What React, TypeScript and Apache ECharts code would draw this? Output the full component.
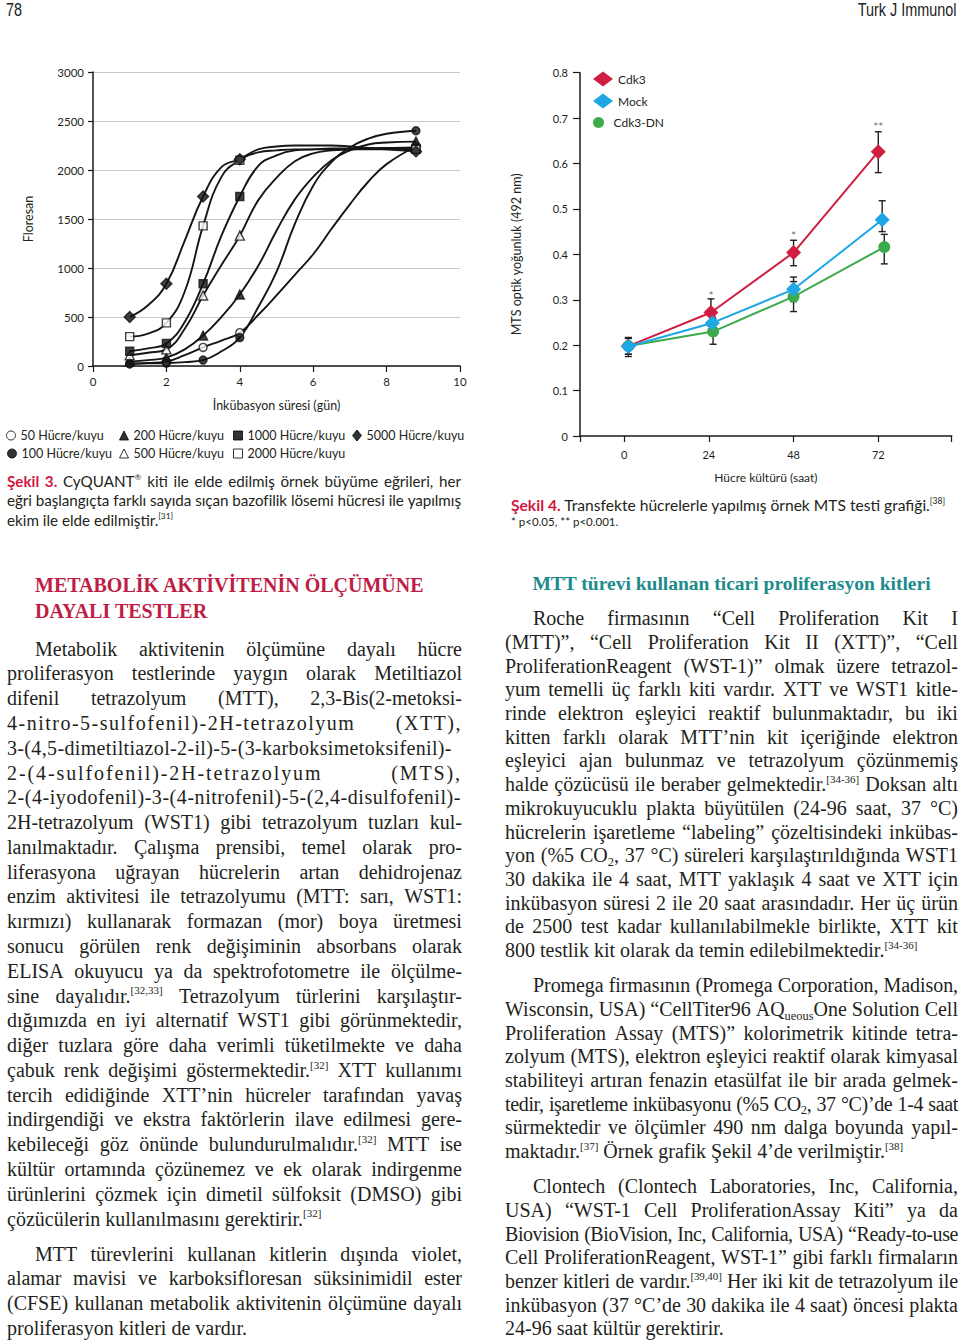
import React, { useEffect, useRef } from "react";
import * as echarts from "echarts";

// ---------- Şekil 3: CyQUANT büyüme eğrileri ----------
const growthSeriesNames = [
  "50 Hücre/kuyu",
  "100 Hücre/kuyu",
  "200 Hücre/kuyu",
  "500 Hücre/kuyu",
  "1000 Hücre/kuyu",
  "2000 Hücre/kuyu",
  "5000 Hücre/kuyu",
];
const curveDays = [1, 1.5, 2, 2.5, 3, 3.5, 4, 4.5, 5, 5.5, 6, 6.5, 7, 7.5, 8, 8.8];
const curve50 = [20, 30, 45, 110, 190, 260, 340, 520, 720, 930, 1140, 1400, 1650, 1880, 2060, 2240];
const curve100 = [25, 27, 30, 40, 60, 150, 290, 600, 960, 1450, 1840, 2080, 2230, 2320, 2370, 2400];
const curve200 = [45, 60, 85, 170, 310, 500, 730, 1020, 1380, 1700, 1930, 2100, 2200, 2260, 2280, 2290];
const curve500 = [110, 135, 170, 380, 720, 1030, 1330, 1690, 1920, 2090, 2170, 2200, 2210, 2220, 2225, 2230];
const curve1000 = [150, 180, 230, 450, 840, 1330, 1730, 2040, 2150, 2200, 2210, 2220, 2220, 2220, 2220, 2220];
const curve2000 = [300, 330, 440, 760, 1430, 1930, 2100, 2180, 2200, 2210, 2210, 2210, 2210, 2210, 2210, 2210];
const curve5000 = [500, 620, 840, 1280, 1730, 2030, 2110, 2210, 2240, 2250, 2250, 2250, 2240, 2225, 2210, 2190];
const growthCurves = [curve50, curve100, curve200, curve500, curve1000, curve2000, curve5000];
const markerDays = [1, 2, 3, 4, 8.8];

// ---------- Şekil 4: MTS testi ----------
const mtsHours = [0, 24, 48, 72];
const mtsNames = ["Cdk3", "Mock", "Cdk3-DN"];
const cdk3X = [1.2, 24.6, 48, 72];
const cdk3Y = [0.198, 0.272, 0.404, 0.626];
const cdk3Low = [0.175, 0.242, 0.375, 0.58];
const cdk3High = [0.217, 0.302, 0.431, 0.67];
const mockX = [1.2, 25, 48, 73.1];
const mockY = [0.197, 0.249, 0.323, 0.476];
const mockLow = [0.18, 0.236, 0.296, 0.45];
const mockHigh = [0.215, 0.262, 0.35, 0.518];
const dnX = [1.2, 25.2, 48, 73.7];
const dnY = [0.198, 0.23, 0.307, 0.416];
const dnLow = [0.18, 0.202, 0.274, 0.379];
const dnHigh = [0.215, 0.258, 0.34, 0.444];
const starX = [24.6, 48, 72];
const starY = [0.316, 0.448, 0.689];
const starText = ["*", "*", "**"];

// ---------- styles ----------
const SANS = 'Lato, "Open Sans", sans-serif';
const SERIF = '"Liberation Serif", "Times New Roman", serif';
const HEADER = '"Liberation Sans", Arial, sans-serif';
const INK = "#231f20";
const RED = "#d2173f";
const HEAD_RED = "#be1e45";
const TEAL = "#1d8b8b";
const C_RED = "#d01e42";
const C_BLUE = "#1ea7e4";
const C_GREEN = "#3dab4a";

const growthSymbols = [
  { symbol: "circle", filled: false, size: 8 },
  { symbol: "circle", filled: true, size: 8 },
  { symbol: "triangle", filled: true, size: 9 },
  { symbol: "triangle", filled: false, size: 9 },
  { symbol: "rect", filled: true, size: 8 },
  { symbol: "rect", filled: false, size: 8 },
  { symbol: "diamond", filled: true, size: 11 },
];
const growthLegendPos = [
  [6, 429],
  [7, 447],
  [119, 429],
  [119, 447],
  [233, 429],
  [233, 447],
  [352, 429],
];

function buildOption(): any {
  const series: any[] = [];
  growthSeriesNames.forEach((name, i) => {
    const vals = growthCurves[i];
    const st = growthSymbols[i];
    series.push({
      type: "line",
      name: name + " eğri",
      xAxisIndex: 0,
      yAxisIndex: 0,
      data: curveDays.map((d, j) => [d, vals[j]]),
      smooth: 0.45,
      showSymbol: false,
      silent: true,
      lineStyle: { color: "#151515", width: 1.9 },
      z: 2,
    });
    series.push({
      type: "scatter",
      name,
      xAxisIndex: 0,
      yAxisIndex: 0,
      data: markerDays.map((d) => [d, vals[curveDays.indexOf(d)]]),
      symbol: st.symbol,
      symbolSize: st.size,
      itemStyle: { color: st.filled ? "#111" : "#fff", borderColor: "#111", borderWidth: 1.4 },
      z: 3,
    });
  });

  const mtsSets = [
    { name: mtsNames[0], xs: cdk3X, ys: cdk3Y, lo: cdk3Low, hi: cdk3High, color: C_RED, symbol: "diamond", size: 15, z: 5 },
    { name: mtsNames[2], xs: dnX, ys: dnY, lo: dnLow, hi: dnHigh, color: C_GREEN, symbol: "circle", size: 12, z: 6 },
    { name: mtsNames[1], xs: mockX, ys: mockY, lo: mockLow, hi: mockHigh, color: C_BLUE, symbol: "diamond", size: 15, z: 7 },
  ];
  mtsSets.forEach((s) => {
    series.push({
      type: "custom",
      name: s.name + " hata",
      xAxisIndex: 1,
      yAxisIndex: 1,
      silent: true,
      z: 3,
      data: s.xs.map((x, i) => [x, s.lo[i], s.hi[i]]),
      encode: { x: 0, y: [1, 2] },
      renderItem: (params: any, api: any) => {
        const x = api.value(0);
        const lo = api.coord([x, api.value(1)]);
        const hi = api.coord([x, api.value(2)]);
        const c = 3.5;
        const style = { stroke: INK, lineWidth: 1.4 };
        return {
          type: "group",
          children: [
            { type: "line", shape: { x1: lo[0], y1: lo[1], x2: hi[0], y2: hi[1] }, style },
            { type: "line", shape: { x1: hi[0] - c, y1: hi[1], x2: hi[0] + c, y2: hi[1] }, style },
            { type: "line", shape: { x1: lo[0] - c, y1: lo[1], x2: lo[0] + c, y2: lo[1] }, style },
          ],
        };
      },
    });
  });
  mtsSets.forEach((s) => {
    series.push({
      type: "line",
      name: s.name,
      xAxisIndex: 1,
      yAxisIndex: 1,
      data: s.xs.map((x, i) => [x, s.ys[i]]),
      symbol: s.symbol,
      symbolSize: s.size,
      showSymbol: true,
      lineStyle: { color: s.color, width: 2 },
      itemStyle: { color: s.color },
      z: s.z,
    });
  });
  series.push({
    type: "scatter",
    name: "anlamlılık",
    xAxisIndex: 1,
    yAxisIndex: 1,
    symbol: "circle",
    symbolSize: 1,
    itemStyle: { color: "rgba(0,0,0,0)" },
    silent: true,
    data: starX.map((x, i) => ({
      value: [x, starY[i]],
      label: { show: true, formatter: starText[i], position: "inside", offset: [0, 3], fontSize: 12, color: "#4a4a4a", fontFamily: SANS },
    })),
    z: 8,
  });

  const axisLine = { show: true, onZero: false, lineStyle: { color: "#1a1a1a", width: 1.5 } };
  const axisLabel = { color: INK, fontFamily: SANS, fontSize: 11.5 };
  const nameStyle = { color: INK, fontFamily: SANS, fontSize: 12.5 };

  const legends: any[] = growthSeriesNames.map((name, i) => {
    const st = growthSymbols[i];
    return {
      left: growthLegendPos[i][0],
      top: growthLegendPos[i][1],
      padding: 0,
      itemWidth: 9,
      itemHeight: st.symbol === "diamond" ? 11 : 9,
      selectedMode: false,
      textStyle: { color: INK, fontFamily: SANS, fontSize: 12.5 },
      data: [
        {
          name,
          icon: st.symbol,
          itemStyle: { color: st.filled ? "#000" : "#fff", borderColor: "#000", borderWidth: 1 },
        },
      ],
    };
  });
  const mtsLegend = [
    { name: mtsNames[0], top: 71.5, h: 15, icon: "diamond", color: C_RED },
    { name: mtsNames[1], top: 93.5, h: 15, icon: "diamond", color: C_BLUE },
    { name: mtsNames[2], top: 116.5, h: 11, icon: "circle", color: C_GREEN },
  ];
  mtsLegend.forEach((l) => {
    legends.push({
      left: 593,
      top: l.top,
      padding: 0,
      itemWidth: 20,
      itemHeight: l.h,
      selectedMode: false,
      textStyle: { color: INK, fontFamily: SANS, fontSize: 12 },
      data: [{ name: l.name, icon: l.icon, itemStyle: { color: l.color } }],
    });
  });

  return {
    animation: false,
    backgroundColor: "transparent",
    legend: legends,
    grid: [
      { left: 93, top: 72, width: 367, height: 294 },
      { left: 580, top: 72.7, width: 371.7, height: 363.3 },
    ],
    xAxis: [
      {
        type: "value",
        gridIndex: 0,
        min: 0,
        max: 10,
        interval: 2,
        axisLine,
        axisTick: { show: true, length: 6, lineStyle: { color: "#1a1a1a", width: 1.2 } },
        axisLabel: { ...axisLabel, margin: 9 },
        splitLine: { show: false },
        name: "İnkübasyon süresi (gün)",
        nameLocation: "middle",
        nameGap: 33,
        nameTextStyle: nameStyle,
      },
      {
        type: "value",
        gridIndex: 1,
        min: -12.5,
        max: 92.8,
        axisLine,
        axisTick: { show: true, length: 6, customValues: [-12.5, ...mtsHours, 92.8], lineStyle: { color: "#1a1a1a", width: 1.2 } },
        axisLabel: { ...axisLabel, fontSize: 11, margin: 13, customValues: mtsHours },
        splitLine: { show: false },
        name: "Hücre kültürü (saat)",
        nameLocation: "middle",
        nameGap: 35,
        nameTextStyle: { ...nameStyle, fontSize: 12 },
      },
    ],
    yAxis: [
      {
        type: "value",
        gridIndex: 0,
        min: 0,
        max: 3000,
        interval: 500,
        axisLine,
        axisTick: { show: true, length: 5, lineStyle: { color: "#1a1a1a", width: 1.2 } },
        axisLabel: { ...axisLabel, margin: 9, formatter: (v: number) => String(Math.round(v)) },
        splitLine: { show: true, lineStyle: { color: "#c8c8c8", width: 1 } },
        name: "Floresan",
        nameLocation: "middle",
        nameGap: 58,
        nameRotate: 90,
        nameTextStyle: nameStyle,
      },
      {
        type: "value",
        gridIndex: 1,
        min: 0,
        max: 0.8,
        interval: 0.1,
        axisLine,
        axisTick: { show: true, length: 7, lineStyle: { color: "#1a1a1a", width: 1.2 } },
        axisLabel: { ...axisLabel, fontSize: 11, margin: 12 },
        splitLine: { show: false },
        name: "MTS optik yoğunluk (492 nm)",
        nameLocation: "middle",
        nameGap: 57,
        nameRotate: 90,
        nameTextStyle: { ...nameStyle, fontSize: 12.5 },
      },
    ],
    series,
  };
}

// ---------- page text ----------
const leftHeading = ["METABOLİK AKTİVİTENİN ÖLÇÜMÜNE", "DAYALI TESTLER"];
const leftPara1 = [
  "Metabolik aktivitenin ölçümüne dayalı hücre",
  "proliferasyon testlerinde yaygın olarak Metiltiazol",
  "difenil tetrazolyum (MTT), 2,3-Bis(2-metoksi-",
  "4-nitro-5-sulfofenil)-2H-tetrazolyum (XTT),",
  "3-(4,5-dimetiltiazol-2-il)-5-(3-karboksimetoksifenil)-",
  "2-(4-sulfofenil)-2H-tetrazolyum (MTS),",
  "2-(4-iyodofenil)-3-(4-nitrofenil)-5-(2,4-disulfofenil)-",
  "2H-tetrazolyum (WST1) gibi tetrazolyum tuzları kul-",
  "lanılmaktadır. Çalışma prensibi, temel olarak pro-",
  "liferasyona uğrayan hücrelerin artan dehidrojenaz",
  "enzim aktivitesi ile tetrazolyumu (MTT: sarı, WST1:",
  "kırmızı) kullanarak formazan (mor) boya üretmesi",
  "sonucu görülen renk değişiminin absorbans olarak",
  "ELISA okuyucu ya da spektrofotometre ile ölçülme-",
  "sine dayalıdır.^[32,33] Tetrazolyum türlerini karşılaştır-",
  "dığımızda en iyi alternatif WST1 gibi görünmektedir,",
  "diğer tuzlara göre daha verimli tüketilmekte ve daha",
  "çabuk renk değişimi göstermektedir.^[32] XTT kullanımı",
  "tercih edidiğinde XTT’nin hücreler tarafından yavaş",
  "indirgendiği ve ekstra faktörlerin ilave edilmesi gere-",
  "kebileceği göz önünde bulundurulmalıdır.^[32] MTT ise",
  "kültür ortamında çözünemez ve ek olarak indirgenme",
  "ürünlerini çözmek için dimetil sülfoksit (DMSO) gibi",
  "çözücülerin kullanılmasını gerektirir.^[32]",
];
const leftPara2 = [
  "MTT türevlerini kullanan kitlerin dışında violet,",
  "alamar mavisi ve karboksifloresan süksinimidil ester",
  "(CFSE) kullanan metabolik aktivitenin ölçümüne dayalı",
  "proliferasyon kitleri de vardır.",
];
const rightHeading = "MTT türevi kullanan ticari proliferasyon kitleri";
const rightPara1 = [
  "Roche firmasının “Cell Proliferation Kit I",
  "(MTT)”, “Cell Proliferation Kit II (XTT)”, “Cell",
  "ProliferationReagent (WST-1)” olmak üzere tetrazol-",
  "yum temelli üç farklı kiti vardır. XTT ve WST1 kitle-",
  "rinde elektron eşleyici reaktif bulunmaktadır, bu iki",
  "kitten farklı olarak MTT’nin kit içeriğinde elektron",
  "eşleyici ajan bulunmaz ve tetrazolyum çözünmemiş",
  "halde çözücüsü ile beraber gelmektedir.^[34-36] Doksan altı",
  "mikrokuyucuklu plakta büyütülen (24-96 saat, 37 °C)",
  "hücrelerin işaretleme “labeling” çözeltisindeki inkübas-",
  "yon (%5 CO_{2}, 37 °C) süreleri karşılaştırıldığında WST1",
  "30 dakika ile 4 saat, MTT yaklaşık 4 saat ve XTT için",
  "inkübasyon süresi 2 ile 20 saat arasındadır. Her üç ürün",
  "de 2500 test kadar kullanılabilmekle birlikte, XTT kit",
  "800 testlik kit olarak da temin edilebilmektedir.^[34-36]",
];
const rightPara2 = [
  "Promega firmasının (Promega Corporation, Madison,",
  "Wisconsin, USA) “CellTiter96 AQ_{ueous}One Solution Cell",
  "Proliferation Assay (MTS)” kolorimetrik kitinde tetra-",
  "zolyum (MTS), elektron eşleyici reaktif olarak kimyasal",
  "stabiliteyi artıran fenazin etasülfat ile bir arada gelmek-",
  "tedir, işaretleme inkübasyonu (%5 CO_{2}, 37 °C)’de 1-4 saat",
  "sürmektedir ve ölçümler 490 nm dalga boyunda yapıl-",
  "maktadır.^[37] Örnek grafik Şekil 4’de verilmiştir.^[38]",
];
const rightPara3 = [
  "Clontech (Clontech Laboratories, Inc, California,",
  "USA) “WST-1 Cell ProliferationAssay Kiti” ya da",
  "Biovision (BioVision, Inc, California, USA) “Ready-to-use",
  "Cell ProliferationReagent, WST-1” gibi farklı firmaların",
  "benzer kitleri de vardır.^[39,40] Her iki kit de tetrazolyum ile",
  "inkübasyon (37 °C’de 30 dakika ile 4 saat) öncesi plakta",
  "24-96 saat kültür gerektirir.",
];
const caption3 = [
  "**Şekil** **3.** CyQUANT^® kiti ile elde edilmiş örnek büyüme eğrileri, her",
  "eğri başlangıçta farklı sayıda sıçan bazofilik lösemi hücresi ile yapılmış",
  "ekim ile elde edilmiştir.^[31]",
];
const caption4 = "**Şekil** **4.** Transfekte hücrelerle yapılmış örnek MTS testi grafiği.^[38]";
const caption4Note = "* p<0.05, ** p<0.001.";
const letterSpacing: Record<string, number> = {
  "4-nitro-5-sulfofenil)-2H-tetrazolyum (XTT),": 1.5,
  "2-(4-sulfofenil)-2H-tetrazolyum (MTS),": 1.9,
  "3-(4,5-dimetiltiazol-2-il)-5-(3-karboksimetoksifenil)-": 0.35,
  "2-(4-iyodofenil)-3-(4-nitrofenil)-5-(2,4-disulfofenil)-": 0.55,
};

let measureCtx: CanvasRenderingContext2D | null = null;
function textWidth(s: string, font: string, size: number, weight: number): number {
  if (!measureCtx) measureCtx = document.createElement("canvas").getContext("2d");
  if (!measureCtx) return 0;
  measureCtx.font = `${weight} ${size}px ${font}`;
  return measureCtx.measureText(s).width;
}
// width of the words alone (no spaces) and the number of glyphs
function wordsWidth(words: string[], font: string, size: number, weight: number) {
  let w = 0;
  let chars = 0;
  words.forEach((word) => {
    const small: string[] = [];
    const main = word
      .replace(/\*\*/g, "")
      .replace(/\^\[([^\]]*)\]/g, (_m, s) => {
        small.push("[" + s + "]");
        return "";
      })
      .replace(/\^®/g, () => {
        small.push("®");
        return "";
      })
      .replace(/_\{([^}]*)\}/g, (_m, s) => {
        small.push(s);
        return "";
      });
    w += textWidth(main, font, size, weight);
    chars += main.length;
    small.forEach((s) => {
      w += textWidth(s, font, size * 0.58, weight);
      chars += s.length;
    });
  });
  return { w, chars };
}

function rich(s: string): React.ReactNode[] {
  const parts = s.split(/(\^\[[^\]]*\]|\^®|_\{[^}]*\})/);
  return parts
    .filter((p) => p !== "")
    .map((p, i) => {
      if (p.startsWith("^[")) return <span key={i} style={{ fontSize: "0.55em", position: "relative", top: "-0.75em" }}>{p.slice(1)}</span>;
      if (p === "^®") return <span key={i} style={{ fontSize: "0.55em", position: "relative", top: "-0.75em" }}>®</span>;
      if (p.startsWith("_{")) return <span key={i} style={{ fontSize: "0.62em", position: "relative", top: "0.3em" }}>{p.slice(2, -1)}</span>;
      return <React.Fragment key={i}>{p}</React.Fragment>;
    });
}

function Word({ w }: { w: string }) {
  const m = /^\*\*(.+)\*\*$/.exec(w);
  if (m) return <span style={{ fontWeight: 700, color: RED }}>{rich(m[1])}</span>;
  return <span>{rich(w)}</span>;
}

type LineProps = {
  text: string;
  left: number;
  width: number;
  cy: number;
  lh: number;
  font: string;
  size: number;
  justify?: boolean;
  color?: string;
  weight?: number;
  align?: "left" | "center" | "right";
};

function TextLine(p: LineProps) {
  const words = p.text.split(" ");
  let ls = letterSpacing[p.text];
  if (ls === undefined && p.justify && words.length > 1) {
    const m = wordsWidth(words, p.font, p.size, p.weight || 400);
    const minGap = 0.26 * p.size;
    const need = m.w + minGap * (words.length - 1);
    if (need > p.width && m.chars > 0) ls = (p.width - need) / m.chars;
  }
  const base: React.CSSProperties = {
    position: "absolute",
    left: p.left,
    top: p.cy - p.lh / 2,
    width: p.width,
    height: p.lh,
    lineHeight: `${p.lh}px`,
    fontFamily: p.font,
    fontSize: p.size,
    color: p.color || INK,
    fontWeight: p.weight || 400,
    whiteSpace: "nowrap",
    letterSpacing: ls ? `${ls}px` : undefined,
    textAlign: p.align || "left",
  };
  if (p.justify) {
    return (
      <div style={{ ...base, display: "flex", justifyContent: "space-between" }}>
        {words.map((w, i) => (
          <Word key={i} w={w} />
        ))}
      </div>
    );
  }
  return (
    <div style={base}>
      {words.map((w, i) => (
        <React.Fragment key={i}>
          {i > 0 ? " " : ""}
          <Word w={w} />
        </React.Fragment>
      ))}
    </div>
  );
}

function Paragraph({ lines, left, width, y0, lh, indent }: { lines: string[]; left: number; width: number; y0: number; lh: number; indent: number }) {
  return (
    <>
      {lines.map((t, i) => (
        <TextLine
          key={i}
          text={t}
          left={i === 0 ? left + indent : left}
          width={i === 0 ? width - indent : width}
          cy={y0 + i * lh}
          lh={lh}
          font={SERIF}
          size={20}
          justify={i < lines.length - 1}
        />
      ))}
    </>
  );
}

export default function App() {
  const ref = useRef<HTMLDivElement>(null);
  useEffect(() => {
    if (!ref.current) return;
    const chart = echarts.init(ref.current, undefined, { renderer: "svg" });
    chart.setOption(buildOption());
    return () => chart.dispose();
  }, []);

  const LX = 7;
  const LW = 455;
  const RX = 505;
  const RW = 453;

  return (
    <div style={{ position: "absolute", left: 0, top: 0, width: 960, height: 1342, background: "#fff", overflow: "hidden" }}>
      <div style={{ position: "absolute", left: 6, top: 0, fontFamily: HEADER, fontSize: 18, lineHeight: "20px", color: "#222", transform: "scaleX(0.8)", transformOrigin: "left top", whiteSpace: "nowrap" }}>78</div>
      <div style={{ position: "absolute", right: 4, top: 0, fontFamily: HEADER, fontSize: 18, lineHeight: "20px", color: "#222", transform: "scaleX(0.8)", transformOrigin: "right top", whiteSpace: "nowrap" }}>Turk J Immunol</div>

      <div ref={ref} style={{ position: "absolute", left: 0, top: 0, width: 960, height: 540 }} />

      {caption3.map((t, i) => (
        <TextLine key={i} text={t} left={LX} width={454} cy={481 + i * 19.5} lh={19} font={SANS} size={15.2} justify={i < 2} />
      ))}
      <TextLine text={caption4} left={511} width={445} cy={505} lh={19} font={SANS} size={15.6} />
      <TextLine text={caption4Note} left={511} width={300} cy={521.5} lh={14} font={SANS} size={11.5} />

      {leftHeading.map((t, i) => (
        <TextLine key={i} text={t} left={LX + 28} width={430} cy={585 + i * 26} lh={26} font={SERIF} size={20} weight={700} color={HEAD_RED} />
      ))}
      <Paragraph lines={leftPara1} left={LX} width={LW} y0={649} lh={24.78} indent={28} />
      <Paragraph lines={leftPara2} left={LX} width={LW} y0={1254} lh={24.78} indent={28} />

      <TextLine text={rightHeading} left={RX} width={RW} cy={584} lh={24} font={SERIF} size={19.5} weight={700} color={TEAL} align="center" />
      <Paragraph lines={rightPara1} left={RX} width={RW} y0={619} lh={23.71} indent={28} />
      <Paragraph lines={rightPara2} left={RX} width={RW} y0={986} lh={23.71} indent={28} />
      <Paragraph lines={rightPara3} left={RX} width={RW} y0={1187} lh={23.71} indent={28} />
    </div>
  );
}
